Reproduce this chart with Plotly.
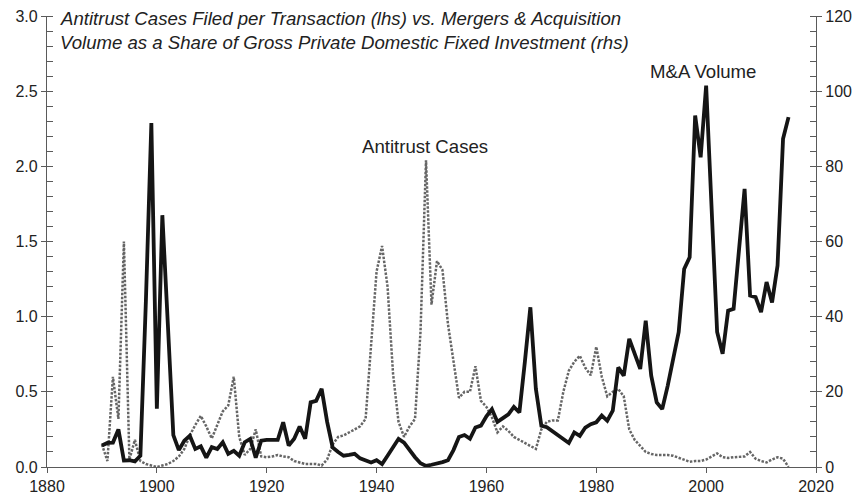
import plotly.graph_objects as go

years = list(range(1890, 2016))

# M&A volume as share of gross private domestic fixed investment (rhs, %)
ma_volume = [
    5.7, 6.4, 6.5, 10.0, 1.7, 1.8, 1.5, 3.0, 44.0, 91.5,      # 1890-1899
    15.5, 67.0, 38.0, 8.5, 4.5, 7.0, 8.3, 4.8, 5.5, 2.5,       # 1900-1909
    5.3, 4.8, 6.6, 3.5, 4.3, 3.0, 6.6, 7.5, 2.5, 7.0,          # 1910-1919
    7.2, 7.2, 7.2, 11.9, 5.7, 7.5, 10.8, 7.5, 17.2, 17.6,      # 1920-1929
    20.8, 12.0, 5.2, 4.0, 3.0, 3.2, 3.5, 2.3, 1.8, 1.2,        # 1930-1939
    1.8, 0.8, 3.0, 5.5, 7.5, 6.5, 4.5, 2.6, 1.0, 0.3,          # 1940-1949
    0.6, 0.9, 1.3, 1.8, 4.5, 8.0, 8.5, 7.5, 10.5, 11.0,        # 1950-1959
    13.5, 15.4, 12.0, 13.0, 14.0, 16.0, 14.5, 28.0, 42.5, 20.8, # 1960-1969
    11.0, 10.6, 9.5, 8.3, 7.2, 6.4, 9.2, 8.3, 10.5, 11.4,      # 1970-1979
    11.9, 13.7, 12.3, 15.0, 26.5, 24.3, 34.1, 30.0, 26.1, 38.9, # 1980-1989
    24.3, 17.2, 15.4, 21.6, 29.0, 35.9, 52.7, 55.8, 93.5, 82.4, # 1990-1999
    101.5, 68.0, 35.9, 30.1, 41.6, 42.1, 58.0, 74.0, 45.6, 45.2, # 2000-2009
    41.2, 49.2, 43.8, 53.6, 87.3, 93.1                          # 2010-2015
]

# Antitrust cases filed per transaction (lhs)
antitrust_cases = [
    0.15, 0.04, 0.60, 0.32, 1.50, 0.05, 0.18, 0.04, 0.02, 0.01, # 1890-1899
    0.00, 0.01, 0.02, 0.04, 0.07, 0.12, 0.21, 0.28, 0.34, 0.27, # 1900-1909
    0.19, 0.28, 0.37, 0.41, 0.60, 0.20, 0.08, 0.12, 0.25, 0.07, # 1910-1919
    0.065, 0.07, 0.08, 0.07, 0.065, 0.04, 0.03, 0.02, 0.02, 0.02, # 1920-1929
    0.01, 0.05, 0.15, 0.20, 0.21, 0.23, 0.25, 0.27, 0.32, 0.80, # 1930-1939
    1.30, 1.47, 1.20, 0.62, 0.30, 0.20, 0.27, 0.32, 0.90, 2.04, # 1940-1949
    1.08, 1.37, 1.31, 0.95, 0.70, 0.46, 0.50, 0.50, 0.67, 0.44, # 1950-1959
    0.40, 0.33, 0.23, 0.27, 0.24, 0.20, 0.18, 0.16, 0.14, 0.12, # 1960-1969
    0.25, 0.30, 0.31, 0.31, 0.50, 0.64, 0.70, 0.74, 0.66, 0.61, # 1970-1979
    0.80, 0.60, 0.47, 0.50, 0.52, 0.47, 0.25, 0.18, 0.14, 0.10, # 1980-1989
    0.087, 0.08, 0.08, 0.08, 0.075, 0.06, 0.045, 0.035, 0.04, 0.04, # 1990-1999
    0.05, 0.07, 0.09, 0.065, 0.06, 0.065, 0.065, 0.07, 0.10, 0.055, # 2000-2009
    0.04, 0.03, 0.05, 0.065, 0.055, 0.0                          # 2010-2015
]

x_ticks = [1880, 1900, 1920, 1940, 1960, 1980, 2000, 2020]
left_ticks = [0.0, 0.5, 1.0, 1.5, 2.0, 2.5, 3.0]
right_ticks = [0, 20, 40, 60, 80, 100, 120]

title_line1 = "Antitrust Cases Filed per Transaction (lhs) vs. Mergers & Acquisition"
title_line2 = "Volume as a Share of Gross Private Domestic Fixed Investment (rhs)"

FONT = "Liberation Sans, Arial, Helvetica, sans-serif"
AX = "#5a5a5a"
TXT = "#222222"

fig = go.Figure()
fig.add_trace(go.Scatter(
    x=years, y=antitrust_cases, mode="lines", name="Antitrust Cases",
    line=dict(color="#666666", width=2.5, dash="2.5px,1.5px"), yaxis="y"))
fig.add_trace(go.Scatter(
    x=years, y=ma_volume, mode="lines", name="M&A Volume",
    line=dict(color="#151515", width=3.8), yaxis="y2"))

axis_common = dict(showgrid=False, zeroline=False, showline=True, linecolor=AX,
                   linewidth=1.2, ticks="outside", tickcolor=AX, ticklen=5,
                   automargin=False, ticklabeloverflow="allow",
                   tickfont=dict(family=FONT, size=16, color=TXT))

# inner halves of the major ticks (major ticks cross the axis line in the reference)
inner_ticks = dict(showgrid=False, zeroline=False, showline=False, showticklabels=False,
                   ticks="inside", ticklen=6, tickcolor=AX, automargin=False,
                   overlaying="y", anchor="x")

fig.update_layout(
    width=852, height=489, autosize=False,
    margin=dict(l=39, r=44, t=8, b=29.5),
    paper_bgcolor="white", plot_bgcolor="white",
    showlegend=False,
    xaxis=dict(range=[1880, 2020], tickvals=x_ticks, ticktext=[str(v) for v in x_ticks],
               **axis_common),
    yaxis=dict(range=[0, 3], tickvals=left_ticks, ticktext=[f"{v:.1f}" for v in left_ticks],
               minor=dict(dtick=0.1, ticks="inside", ticklen=6, tickcolor=AX),
               **axis_common),
    yaxis2=dict(range=[0, 120], tickvals=right_ticks, ticktext=[str(v) for v in right_ticks],
                overlaying="y", side="right", anchor="x",
                minor=dict(dtick=4, ticks="inside", ticklen=6, tickcolor=AX),
                **axis_common),
    yaxis3=dict(range=[0, 3], tickvals=left_ticks, side="left", **inner_ticks),
    yaxis4=dict(range=[0, 120], tickvals=right_ticks, side="right", **inner_ticks),
)

TF = 18.6
fig.add_annotation(x=0.014, y=0.9934, xref="paper", yref="paper", xanchor="left",
                   yanchor="middle", showarrow=False, text=title_line1,
                   font=dict(family=FONT, size=TF, color=TXT, style="italic"))
fig.add_annotation(x=0.014, y=0.9403, xref="paper", yref="paper", xanchor="left",
                   yanchor="middle", showarrow=False, text=title_line2,
                   font=dict(family=FONT, size=TF, color=TXT, style="italic"))
fig.add_annotation(x=0.491, y=0.7105, xref="paper", yref="paper", xanchor="center",
                   yanchor="middle", showarrow=False, text="Antitrust Cases",
                   font=dict(family=FONT, size=TF, color=TXT))
fig.add_annotation(x=0.853, y=0.8766, xref="paper", yref="paper", xanchor="center",
                   yanchor="middle", showarrow=False, text="M&A Volume",
                   font=dict(family=FONT, size=TF, color=TXT))

fig.write_html("out.html")
